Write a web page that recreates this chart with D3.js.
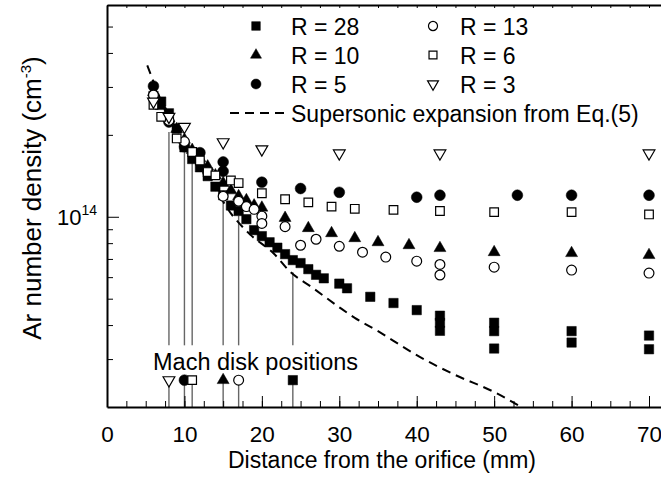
<!DOCTYPE html>
<html>
<head>
<meta charset="utf-8">
<script src="https://cdn.jsdelivr.net/npm/d3@7"></script>
<style>
  body { margin: 0; background: #fff; }
  text { font-family: "Liberation Sans", Arial, sans-serif; fill: #000; }
</style>
</head>
<body>
<div id="chart"></div>
<script>
// densities in units of 1e14 cm^-3, distance in mm
var r28 = [[6,2.78],[7,2.65],[8,2.40],[9,2.11],[10,1.80],[11,1.63],[12,1.52],[13,1.41],[14,1.29],
  [15,1.20],[16,1.10],[17,1.05],[18,0.98],[19,0.893],[20,0.849],[21,0.806],[22,0.77],[23,0.729],
  [24,0.693],[25,0.676],[26,0.642],[27,0.612],[28,0.594],[30,0.568],[31,0.546],[34,0.508],
  [37,0.482],[40,0.454],[43,0.433],[43,0.408],[43,0.381],[50,0.408],[50,0.380],[50,0.328],
  [60,0.380],[60,0.345],[70,0.366],[70,0.326]];
var r10 = [[6,2.87],[7,2.55],[8,2.30],[9,2.10],[10,1.92],[11,1.76],[12,1.64],[13,1.53],[14,1.42],
  [15,1.33],[16,1.25],[17,1.19],[18,1.15],[19,1.10],[20,1.08],[23,0.99],[26,0.908],[29,0.87],
  [32,0.834],[35,0.806],[39,0.786],[43,0.767],[50,0.741],[60,0.735],[70,0.723]];
var r5 = [[6,3.02],[8,2.23],[10,1.81],[12,1.72],[15,1.59],[15,1.47],[20,1.34],[25,1.27],[30,1.23],
  [40,1.18],[43,1.20],[53,1.20],[60,1.20],[70,1.20]];
var r13 = [[6,2.80],[8,2.26],[10,1.89],[13,1.46],[15,1.19],[17,1.14],[18,1.09],[19,1.065],[20,1.005],
  [20,0.945],[23,0.92],[25,0.786],[27,0.827],[30,0.779],[33,0.741],[36,0.711],[40,0.687],
  [43,0.668],[43,0.611],[50,0.653],[60,0.637],[70,0.621]];
var r6 = [[6,2.58],[7,2.33],[9,1.94],[11,1.73],[12,1.61],[13,1.46],[14,1.42],[16,1.36],[17,1.33],
  [20,1.22],[23,1.16],[26,1.13],[29,1.09],[32,1.07],[37,1.06],[43,1.05],[50,1.04],[60,1.04],[70,1.02]];
var r3 = [[6,2.65],[8,2.33],[10,2.14],[15,1.88],[20,1.77],[30,1.71],[43,1.71],[70,1.71]];

// supersonic expansion curve
var supersonic = [[5.2,3.60],[8,2.30],[11,1.67],[13.5,1.33],[16,1.03],[18.5,0.86],[21.5,0.735],
  [23.6,0.63],[26.5,0.55],[30,0.465],[32,0.425],[35,0.38],[37,0.35],[40,0.31],[45,0.262],
  [50,0.227],[53.5,0.2]];

// Mach disk positions: x (mm), top of the guide line (density)
var machX = [8, 10, 11, 15, 17, 24];
var machTop = [2.05, 1.80, 1.63, 1.13, 1.01, 0.625];
var machKeys = ["r3", "r5", "r6", "r10", "r13", "r28"];
var machMarkY = 0.251, machTextY = 0.337;

var xTicks = [0, 10, 20, 30, 40, 50, 60, 70];
var yMinor = [0.3, 0.4, 0.5, 0.6, 0.7, 0.8, 0.9, 2, 3, 4, 5];

var styles = {
  r28: { sym: d3.symbolSquare, size: 88, fill: "#000", rot: 0, label: "R = 28" },
  r10: { sym: d3.symbolTriangle, size: 62, fill: "#000", rot: 0, label: "R = 10" },
  r5:  { sym: d3.symbolCircle, size: 92, fill: "#000", rot: 0, label: "R = 5" },
  r13: { sym: d3.symbolCircle, size: 76, fill: "#fff", rot: 0, label: "R = 13" },
  r6:  { sym: d3.symbolSquare, size: 74, fill: "#fff", rot: 0, label: "R = 6" },
  r3:  { sym: d3.symbolTriangle, size: 60, fill: "#fff", rot: 180, label: "R = 3" }
};
var seriesData = { r28: r28, r10: r10, r5: r5, r13: r13, r6: r6, r3: r3 };

var width = 661, height = 482;
var svg = d3.select("#chart").append("svg")
  .attr("width", width).attr("height", height);

var x = d3.scaleLinear().domain([0, 72]).range([107, 664.5]);
var y = d3.scaleLog().domain([0.2, 6]).range([407, 5]);

svg.append("clipPath").attr("id", "clip").append("rect")
  .attr("x", x(0)).attr("y", y(6)).attr("width", x(72) - x(0)).attr("height", y(0.2) - y(6));

// mach disk guide lines
var guides = svg.append("g").attr("stroke", "#666").attr("stroke-width", 1.4);
machX.forEach(function (mx, i) {
  guides.append("line").attr("x1", x(mx)).attr("x2", x(mx))
    .attr("y1", y(machTop[i])).attr("y2", y(machTextY));
  guides.append("line").attr("x1", x(mx)).attr("x2", x(mx))
    .attr("y1", y(machMarkY)).attr("y2", y(0.2));
});

// supersonic expansion
var line = d3.line().x(function (d) { return x(d[0]); }).y(function (d) { return y(d[1]); })
  .curve(d3.curveMonotoneX);
svg.append("path").datum(supersonic)
  .attr("clip-path", "url(#clip)")
  .attr("d", line).attr("fill", "none").attr("stroke", "#000")
  .attr("stroke-width", 2).attr("stroke-dasharray", "9,6");

function drawSymbol(g, key, px, py, scale) {
  var s = styles[key];
  g.append("path")
    .attr("d", d3.symbol().type(s.sym).size(s.size * (scale || 1))())
    .attr("transform", "translate(" + px + "," + py + ")" + (s.rot ? " rotate(" + s.rot + ")" : ""))
    .attr("fill", s.fill)
    .attr("stroke", "#000")
    .attr("stroke-width", s.fill === "#000" ? 0.5 : 1.2);
}

var pts = svg.append("g");
["r28", "r10", "r5", "r13", "r6", "r3"].forEach(function (key) {
  seriesData[key].forEach(function (d) {
    drawSymbol(pts, key, x(d[0]), y(d[1]));
  });
});

// mach disk markers + label
machX.forEach(function (mx, i) {
  drawSymbol(pts, machKeys[i], x(mx), y(machMarkY));
});
svg.append("text").attr("x", 153).attr("y", 370)
  .style("font-size", "23.5px").text("Mach disk positions");

// axes
var xMinor = d3.range(0, 72.1, 2.5);
svg.append("g").attr("transform", "translate(0,407)")
  .call(d3.axisBottom(x).tickValues(xMinor).tickSize(-6).tickSizeOuter(0).tickFormat(""))
  .call(function (g) { g.select(".domain").attr("stroke-width", 2); });
svg.append("g").attr("transform", "translate(0,407)")
  .call(d3.axisBottom(x).tickValues(xTicks).tickSize(-11).tickSizeOuter(0).tickPadding(19))
  .call(function (g) {
    g.select(".domain").remove();
    g.selectAll("text").style("font-size", "22.5px").attr("fill", "#000")
      .style("font-family", "'Liberation Sans', Arial, sans-serif");
  });
// top border with small ticks
svg.append("g").attr("transform", "translate(0,5)")
  .call(d3.axisTop(x).tickValues(xMinor).tickSize(-3).tickSizeOuter(0).tickFormat(""))
  .call(function (g) { g.select(".domain").attr("stroke-width", 2); });

svg.append("g").attr("transform", "translate(107,0)")
  .call(d3.axisLeft(y).tickValues(yMinor).tickSize(-6).tickSizeOuter(0).tickFormat(""))
  .call(function (g) { g.select(".domain").attr("stroke-width", 2); });
svg.append("g").attr("transform", "translate(107,0)")
  .call(d3.axisLeft(y).tickValues([1]).tickSize(-12).tickSizeOuter(0).tickFormat(""))
  .call(function (g) { g.select(".domain").remove(); });

var yl = svg.append("text").attr("x", 57).attr("y", y(1) + 8).style("font-size", "22px");
yl.append("tspan").text("10");
yl.append("tspan").attr("dy", -10).style("font-size", "14px").text("14");

// axis titles
svg.append("text").attr("x", 382).attr("y", 468).attr("text-anchor", "middle")
  .style("font-size", "23px").text("Distance from the orifice (mm)");
var yt = svg.append("text").attr("transform", "translate(41,198) rotate(-90)")
  .attr("text-anchor", "middle").style("font-size", "26px");
yt.append("tspan").text("Ar number density (cm");
yt.append("tspan").attr("dy", -10).style("font-size", "15px").text("-3");
yt.append("tspan").attr("dy", 10).text(")");

// legend
var legendRows = [26, 55, 84];
var legendCols = [[256, 291], [433, 460]];
var legendKeys = [["r28", "r10", "r5"], ["r13", "r6", "r3"]];
var lg = svg.append("g");
legendKeys.forEach(function (col, ci) {
  col.forEach(function (key, ri) {
    drawSymbol(lg, key, legendCols[ci][0], legendRows[ri], 0.85);
    lg.append("text").attr("x", legendCols[ci][1]).attr("y", legendRows[ri] + 8.5)
      .style("font-size", "23px").text(styles[key].label);
  });
});
lg.append("line").attr("x1", 230).attr("x2", 284).attr("y1", 113).attr("y2", 113)
  .attr("stroke", "#000").attr("stroke-width", 2).attr("stroke-dasharray", "9,6");
lg.append("text").attr("x", 291).attr("y", 121.5).style("font-size", "23px")
  .text("Supersonic expansion from Eq.(5)");
</script>
</body>
</html>
